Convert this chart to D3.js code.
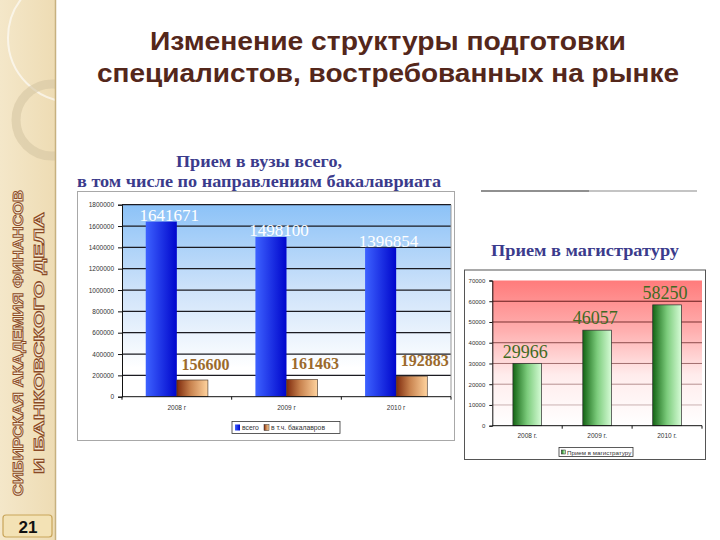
<!DOCTYPE html>
<html><head><meta charset="utf-8">
<script src="https://cdn.jsdelivr.net/npm/d3@7/dist/d3.min.js"></script>
<style>
html,body{margin:0;padding:0;background:#fff;}
svg{display:block;}
</style></head>
<body>
<svg id="s" width="720" height="540"></svg>
<script>
// ---------- data ----------
const slideTitle = ["Изменение структуры подготовки", "специалистов, востребованных на рынке"];
const sideText = ["СИБИРСКАЯ АКАДЕМИЯ ФИНАНСОВ", "И БАНКОВСКОГО ДЕЛА"];
const pageNumber = "21";

const leftTitle = ["Прием в вузы всего,", "в том числе по направлениям бакалавриата"];
const leftCategories = ["2008 г", "2009 г", "2010 г"];
const leftSeriesNames = ["всего", "в т.ч. бакалавров"];
const totalAdmission = [1641671, 1498100, 1396854];
const bachelorAdmission = [156600, 161463, 192883];
const leftTicks = [0, 200000, 400000, 600000, 800000, 1000000, 1200000, 1400000, 1600000, 1800000];

const rightTitle = "Прием в магистратуру";
const rightCategories = ["2008 г.", "2009 г.", "2010 г."];
const rightSeriesName = "Прием в магистратуру";
const masterAdmission = [29966, 46057, 58250];
const rightTicks = [0, 10000, 20000, 30000, 40000, 50000, 60000, 70000];

// ---------- setup ----------
const svg = d3.select("#s");
const defs = svg.append("defs");
function lin(id, x2, y2, stops) {
  const g = defs.append("linearGradient").attr("id", id)
    .attr("x1", 0).attr("y1", 0).attr("x2", x2).attr("y2", y2);
  stops.forEach(s => g.append("stop").attr("offset", s[0]).attr("stop-color", s[1]));
}
lin("gBlueBg", 0, 1, [[0, "#8cc2f7"], [0.45, "#cfe3fa"], [0.85, "#ffffff"], [1, "#ffffff"]]);
lin("gRedBg", 0, 1, [[0, "#ff7b7b"], [0.35, "#ffb0b0"], [0.65, "#ffecec"], [1, "#ffffff"]]);
lin("gBlue", 1, 0, [[0, "#3d62ff"], [1, "#0006cc"]]);
lin("gBrown", 1, 0, [[0, "#7e2a0c"], [0.45, "#c98450"], [1, "#ffd39e"]]);
lin("gGreen", 1, 0, [[0, "#146414"], [0.5, "#7ccc7c"], [1, "#d6fbd6"]]);
lin("gSide", 1, 0, [[0, "#f4e7c9"], [1, "#eedcb4"]]);
defs.append("clipPath").attr("id", "sideClip").append("rect")
  .attr("x", 0).attr("y", 0).attr("width", 55).attr("height", 540);

// ---------- sidebar ----------
svg.append("rect").attr("x", 0).attr("y", 0).attr("width", 55).attr("height", 540).attr("fill", "url(#gSide)");
const deco = svg.append("g").attr("clip-path", "url(#sideClip)");
deco.append("circle").attr("cx", 72).attr("cy", 38).attr("r", 64)
  .attr("fill", "none").attr("stroke", "#ffffff").attr("stroke-opacity", 0.6).attr("stroke-width", 2);
deco.append("circle").attr("cx", 52).attr("cy", 120).attr("r", 36)
  .attr("fill", "none").attr("stroke", "#d6c7a4").attr("stroke-opacity", 0.6).attr("stroke-width", 9);
svg.append("line").attr("x1", 55.5).attr("x2", 55.5).attr("y1", 0).attr("y2", 540)
  .attr("stroke", "#c7b17f").attr("stroke-width", 1.5);
[[18.5, 23, 306], [39, 44, 262]].forEach((p, i) => {
  svg.append("text")
    .attr("transform", `translate(${p[1]},${343}) rotate(-90)`)
    .attr("text-anchor", "middle")
    .attr("textLength", p[2]).attr("lengthAdjust", "spacingAndGlyphs")
    .attr("font-family", "Liberation Sans, Arial, sans-serif").attr("font-weight", "bold")
    .attr("font-size", 14.5)
    .attr("fill", "#f6e9d2").attr("stroke", "#8a4a26").attr("stroke-width", 0.9)
    .text(sideText[i]);
});
svg.append("rect").attr("x", 3).attr("y", 515).attr("width", 49).attr("height", 22).attr("rx", 3)
  .attr("fill", "#f3e2b5").attr("stroke", "#c9a55a").attr("stroke-width", 1.2);
svg.append("text").attr("x", 28).attr("y", 533).attr("text-anchor", "middle")
  .attr("font-family", "Liberation Sans, Arial, sans-serif").attr("font-weight", "bold").attr("font-size", 17)
  .attr("fill", "#111").text(pageNumber);

// ---------- slide title ----------
[[388, 50, 476], [388, 82, 582]].forEach((p, i) => {
  svg.append("text").attr("x", p[0]).attr("y", p[1]).attr("text-anchor", "middle")
    .attr("textLength", p[2]).attr("lengthAdjust", "spacingAndGlyphs")
    .attr("font-family", "Liberation Sans, Arial, sans-serif").attr("font-weight", "bold").attr("font-size", 25)
    .attr("fill", "#54271b").text(slideTitle[i]);
});

const tiny = "Liberation Sans, Arial, sans-serif";
const serif = "Liberation Serif, Times New Roman, serif";

// ---------- left chart ----------
[[259, 167, 166], [259, 187, 364]].forEach((p, i) => {
  svg.append("text").attr("x", p[0]).attr("y", p[1]).attr("text-anchor", "middle")
    .attr("textLength", p[2]).attr("lengthAdjust", "spacingAndGlyphs")
    .attr("font-family", serif).attr("font-weight", "bold").attr("font-size", 17.5)
    .attr("fill", "#3b3b8c").text(leftTitle[i]);
});
svg.append("rect").attr("x", 77.5).attr("y", 191.5).attr("width", 377).attr("height", 249)
  .attr("fill", "#fff").attr("stroke", "#a8a8a8").attr("stroke-width", 1);

const L = {x0: 122, x1: 451, y0: 396.7, y1: 204.7};
const ly = d3.scaleLinear().domain([0, 1800000]).range([L.y0, L.y1]);
const lx0 = d3.scaleBand().domain(leftCategories).range([L.x0, L.x1]).paddingInner(0.433).paddingOuter(0.2165);
const lx1 = d3.scaleBand().domain(leftSeriesNames).range([0, lx0.bandwidth()]);
svg.append("rect").attr("x", L.x0).attr("y", L.y1).attr("width", L.x1 - L.x0).attr("height", L.y0 - L.y1)
  .attr("fill", "url(#gBlueBg)");
svg.append("g").selectAll("line").data(leftTicks.filter(t => t > 0)).join("line")
  .attr("x1", L.x0).attr("x2", L.x1).attr("y1", d => ly(d)).attr("y2", d => ly(d))
  .attr("stroke", "#1b1b22").attr("stroke-width", 1.2);
svg.append("line").attr("x1", L.x1).attr("x2", L.x1).attr("y1", L.y1).attr("y2", L.y0)
  .attr("stroke", "#9a9a9a").attr("stroke-width", 1);

const leftSeries = [totalAdmission, bachelorAdmission];
const leftFills = ["url(#gBlue)", "url(#gBrown)"];
leftSeriesNames.forEach((name, si) => {
  svg.append("g").selectAll("rect").data(leftSeries[si]).join("rect")
    .attr("x", (d, i) => lx0(leftCategories[i]) + lx1(name))
    .attr("y", d => ly(d)).attr("width", lx1.bandwidth()).attr("height", d => L.y0 - ly(d))
    .attr("fill", leftFills[si]).attr("stroke", si === 1 ? "#3a2a20" : "none").attr("stroke-width", 0.6);
});
// value labels
svg.append("g").selectAll("text").data(totalAdmission).join("text")
  .attr("x", (d, i) => lx0(leftCategories[i]) + lx1(leftSeriesNames[0]) + lx1.bandwidth() / 2 + 8)
  .attr("y", d => ly(d) - 1).attr("text-anchor", "middle")
  .attr("font-family", serif).attr("font-size", 17).attr("fill", "#ffffff")
  .text(d => d);
svg.append("g").selectAll("text").data(bachelorAdmission).join("text")
  .attr("x", (d, i) => lx0(leftCategories[i]) + lx1(leftSeriesNames[1]) + lx1.bandwidth() / 2 + 13)
  .attr("y", d => ly(d) - 10).attr("text-anchor", "middle")
  .attr("font-family", serif).attr("font-weight", "bold").attr("font-size", 16).attr("fill", "#9c6a2c")
  .text(d => d);

// axes
const lyAxis = d3.axisLeft(ly).tickValues(leftTicks).tickSize(4).tickFormat(d3.format("d"));
const lga = svg.append("g").attr("transform", `translate(${L.x0},0)`).call(lyAxis);
lga.select(".domain").attr("stroke", "#111");
lga.selectAll("line").attr("stroke", "#111");
lga.selectAll("text").attr("font-family", tiny).attr("font-size", 6.5).attr("fill", "#333").attr("dx", -1);
svg.append("line").attr("x1", L.x0).attr("x2", L.x1).attr("y1", L.y0).attr("y2", L.y0).attr("stroke", "#111");
const lBounds = leftCategories.map(c => lx0(c) - lx0.step() * 0.433 / 2).concat([L.x1]);
svg.append("g").selectAll("line").data(lBounds).join("line")
  .attr("x1", d => d).attr("x2", d => d).attr("y1", L.y0).attr("y2", L.y0 + 3).attr("stroke", "#111");
svg.append("g").selectAll("text").data(leftCategories).join("text")
  .attr("x", d => lx0(d) + lx0.bandwidth() / 2).attr("y", 410).attr("text-anchor", "middle")
  .attr("font-family", tiny).attr("font-size", 6.5).attr("fill", "#333").text(d => d);
// legend
const lg = svg.append("g");
lg.append("rect").attr("x", 232).attr("y", 421.5).attr("width", 108).attr("height", 12)
  .attr("fill", "#fff").attr("stroke", "#333").attr("stroke-width", 0.8);
lg.append("rect").attr("x", 235).attr("y", 424.5).attr("width", 5).attr("height", 6).attr("fill", "url(#gBlue)");
lg.append("text").attr("x", 242).attr("y", 430.3).attr("font-family", tiny).attr("font-size", 6.8).attr("fill", "#333").text(leftSeriesNames[0]);
lg.append("rect").attr("x", 264).attr("y", 424.5).attr("width", 5).attr("height", 6).attr("fill", "url(#gBrown)").attr("stroke", "#333").attr("stroke-width", 0.5);
lg.append("text").attr("x", 271).attr("y", 430.3).attr("font-family", tiny).attr("font-size", 6.8).attr("fill", "#333").text(leftSeriesNames[1]);

// ---------- right chart ----------
svg.append("line").attr("x1", 481).attr("x2", 589).attr("y1", 191).attr("y2", 191).attr("stroke", "#222").attr("stroke-width", 1.2);
svg.append("line").attr("x1", 589).attr("x2", 697).attr("y1", 191).attr("y2", 191).attr("stroke", "#8a8a8a").attr("stroke-width", 1.2);
svg.append("text").attr("x", 585).attr("y", 256).attr("text-anchor", "middle")
  .attr("textLength", 188).attr("lengthAdjust", "spacingAndGlyphs")
  .attr("font-family", serif).attr("font-weight", "bold").attr("font-size", 17.5)
  .attr("fill", "#3b3b8c").text(rightTitle);
svg.append("rect").attr("x", 464.5).attr("y", 270).attr("width", 241).attr("height", 189.5)
  .attr("fill", "#fff").attr("stroke", "#555").attr("stroke-width", 1);

const R = {x0: 492.3, x1: 702, y0: 425.7, y1: 280.5};
const ry = d3.scaleLinear().domain([0, 70000]).range([R.y0, R.y1]);
const rx = d3.scaleBand().domain(rightCategories).range([R.x0, R.x1]).paddingInner(0.59).paddingOuter(0.295);
svg.append("rect").attr("x", R.x0).attr("y", R.y1).attr("width", R.x1 - R.x0).attr("height", R.y0 - R.y1)
  .attr("fill", "url(#gRedBg)");
const gridOp = d3.scaleLinear().domain([0, 60000]).range([0.18, 0.85]);
svg.append("g").selectAll("line").data(rightTicks.filter(t => t > 0 && t < 70000)).join("line")
  .attr("x1", R.x0).attr("x2", R.x1).attr("y1", d => ry(d)).attr("y2", d => ry(d))
  .attr("stroke", "#4a0808").attr("stroke-opacity", d => gridOp(d)).attr("stroke-width", 1);
svg.append("g").selectAll("rect").data(masterAdmission).join("rect")
  .attr("x", (d, i) => rx(rightCategories[i])).attr("y", d => ry(d))
  .attr("width", rx.bandwidth()).attr("height", d => R.y0 - ry(d))
  .attr("fill", "url(#gGreen)").attr("stroke", "#2a2a2a").attr("stroke-width", 0.7);
svg.append("g").selectAll("text").data(masterAdmission).join("text")
  .attr("x", (d, i) => rx(rightCategories[i]) + rx.bandwidth() / 2 - 2)
  .attr("y", d => ry(d) - 6).attr("text-anchor", "middle")
  .attr("font-family", serif).attr("font-size", 18).attr("fill", "#3f6a22")
  .text(d => d);
const ryAxis = d3.axisLeft(ry).tickValues(rightTicks).tickSize(3).tickFormat(d3.format("d"));
const rga = svg.append("g").attr("transform", `translate(${R.x0},0)`).call(ryAxis);
rga.select(".domain").attr("stroke", "#111");
rga.selectAll("line").attr("stroke", "#111");
rga.selectAll("text").attr("font-family", tiny).attr("font-size", 6).attr("fill", "#333").attr("dx", -1);
svg.append("line").attr("x1", R.x0).attr("x2", R.x1).attr("y1", R.y0).attr("y2", R.y0).attr("stroke", "#111");
const rBounds = rightCategories.map(c => rx(c) - rx.step() * 0.59 / 2).concat([R.x1]);
svg.append("g").selectAll("line").data(rBounds.slice(1)).join("line")
  .attr("x1", d => d).attr("x2", d => d).attr("y1", R.y0).attr("y2", R.y0 + 3).attr("stroke", "#111");
svg.append("g").selectAll("text").data(rightCategories).join("text")
  .attr("x", d => rx(d) + rx.bandwidth() / 2).attr("y", 438).attr("text-anchor", "middle")
  .attr("font-family", tiny).attr("font-size", 6.5).attr("fill", "#333").text(d => d);
const rg = svg.append("g");
rg.append("rect").attr("x", 559).attr("y", 447.5).attr("width", 74).attr("height", 9)
  .attr("fill", "#fff").attr("stroke", "#333").attr("stroke-width", 0.8);
rg.append("rect").attr("x", 561.5).attr("y", 450).attr("width", 4).attr("height", 4)
  .attr("fill", "url(#gGreen)").attr("stroke", "#222").attr("stroke-width", 0.5);
rg.append("text").attr("x", 567).attr("y", 454.5).attr("font-family", tiny).attr("font-size", 6.2).attr("fill", "#333")
  .text(rightSeriesName);
</script>
</body></html>
